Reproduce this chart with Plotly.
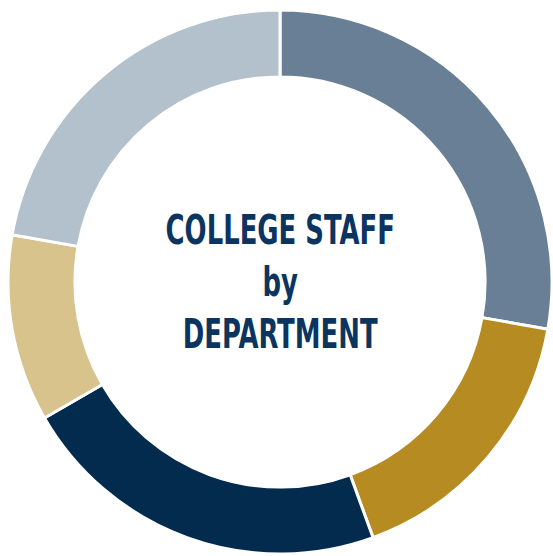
import plotly.graph_objects as go

departments = ["Department A", "Department B", "Department C", "Department D", "Department E"]
staff = [25, 15, 20, 10, 20]
colors = ["#687f95", "#b58b22", "#022b4e", "#d9c38d", "#b3c1cc"]

W, H = 553, 556
cx, cy, r = 280, 282, 272

fig = go.Figure(go.Pie(
    labels=departments,
    values=staff,
    hole=0.754,
    sort=False,
    direction="clockwise",
    rotation=0,
    marker=dict(colors=colors, line=dict(color="white", width=3)),
    textinfo="none",
    hoverinfo="label+value",
    showlegend=False,
    domain=dict(x=[(cx - r) / W, (cx + r) / W],
                y=[(H - cy - r) / H, (H - cy + r) / H]),
))

fig.add_annotation(
    x=cx / W, y=(H - cy) / H, xref="paper", yref="paper",
    text="COLLEGE STAFF<br>by<br>DEPARTMENT",
    showarrow=False, xanchor="center", yanchor="middle",
    font=dict(family="DejaVu Sans Condensed, DejaVu Sans, sans-serif",
              size=40, color="#0b3560", weight="bold"),
)

fig.update_layout(
    width=W, height=H,
    margin=dict(l=0, r=0, t=0, b=0),
    paper_bgcolor="white", plot_bgcolor="white",
)

# Narrow the centre title horizontally to mimic a condensed display face
post = """
var t = document.querySelectorAll('text.annotation-text');
t.forEach(function(el){
  el.style.transformBox = 'fill-box';
  el.style.transformOrigin = 'center';
  el.style.transform = 'scaleX(0.72)';
});
"""

fig.write_html("out.html", post_script=post)
